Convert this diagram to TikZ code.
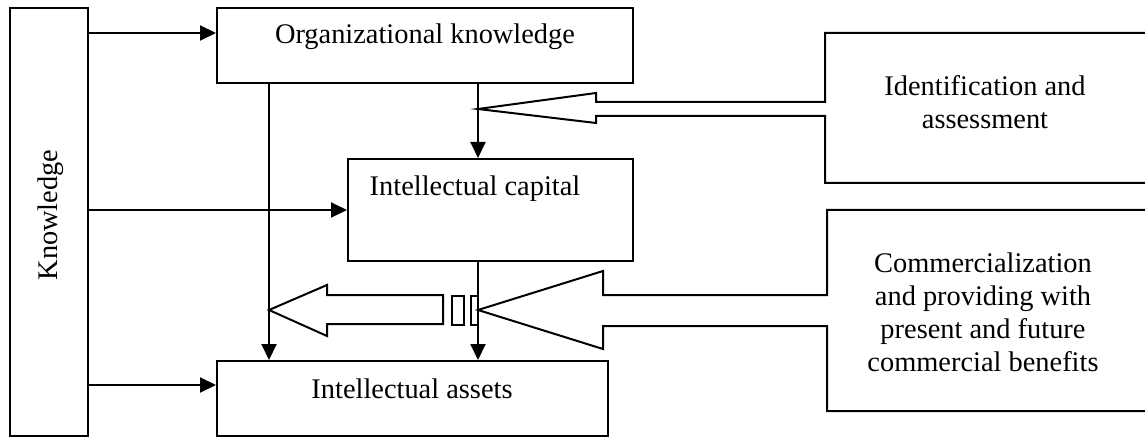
\documentclass[tikz,border=0pt]{standalone}
\usepackage{fontspec}
\setmainfont{Liberation Serif}
\usetikzlibrary{arrows.meta}
\begin{document}
\begin{tikzpicture}[x=0.5pt,y=-0.5pt, line width=1pt, line join=miter,
  font=\fontsize{14.2}{16.5}\selectfont,
  box/.style={draw, inner sep=0pt},
  txt/.style={inner sep=0pt, align=center},
  arr/.style={-{Triangle[length=8pt,width=7.5pt]}}]
\useasboundingbox (0,0) rectangle (1145,438);
% boxes
\node[box, minimum width=39pt, minimum height=214pt] (know) at (49,222) {};
\node[box, minimum width=208pt, minimum height=37.5pt] (org) at (425,45.5) {};
\node[box, minimum width=142.5pt, minimum height=51pt] (cap) at (490.5,210) {};
\node[box, minimum width=195.5pt, minimum height=37.5pt] (assets) at (412.5,398.5) {};
% texts
\node[txt, rotate=90] (knowt) at (51,215) {Knowledge};
\node[txt] (orgt) at (425,37) {Organizational knowledge};
\node[txt] (capt) at (475,189) {Intellectual capital};
\node[txt] (assetst) at (412,389) {Intellectual assets};
\node[txt] (identt) at (985,102) {Identification and\\assessment};
\node[txt] (commt) at (983,312) {Commercialization\\and providing with\\present and future\\commercial benefits};
% connectors
\draw[arr] (know.east |- 0,33) -- (org.west |- 0,33);
\draw[arr] (know.east |- cap.west) -- (cap.west);
\draw[arr] (know.east |- 0,385) -- (assets.west |- 0,385);
\draw[arr] (org.south -| 269,0) -- (assets.north -| 269,0);
\draw[arr] (org.south -| 478,0) -- (cap.north -| 478,0);
\draw[arr] (cap.south -| 478,0) -- (assets.north -| 478,0);
% open boxes with hollow arrows
\draw (1145,33)--(825,33)--(825,102)--(596,102)--(596,93)--(478,109)
  --(596,123)--(596,116)--(825,116)--(825,183)--(1145,183);
\draw (1145,210)--(827,210)--(827,295)--(603,295)--(603,271)--(478,310)
  --(603,349)--(603,326)--(827,326)--(827,411)--(1145,411);
\draw (443,295)--(327,295)--(327,285)--(269,310)--(327,336)--(327,324)--(443,324)--cycle;
\draw (452,296) rectangle (464,325) (471,296) rectangle (478,325);
\end{tikzpicture}
\end{document}
